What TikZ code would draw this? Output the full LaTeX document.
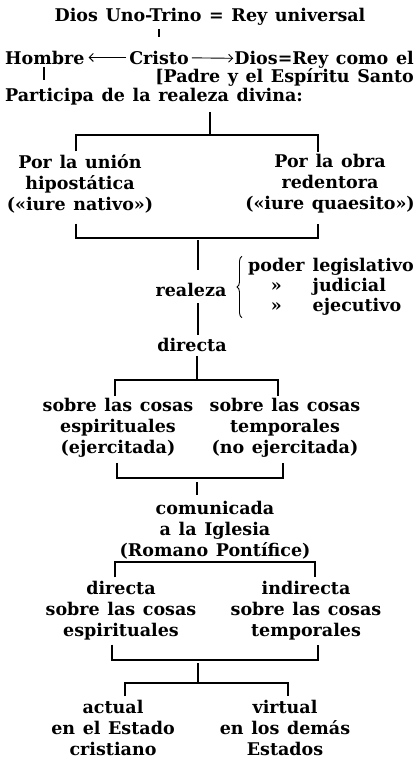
\documentclass[tikz,border=0pt]{standalone}
\usepackage{fontspec}
\setmainfont{DejaVu Serif}[WordSpace=1.25]
\usetikzlibrary{decorations.pathreplacing,arrows.meta}
\begin{document}
\begin{tikzpicture}[x=1pt,y=-1pt,
   every node/.style={font=\fontsize{17.5}{21}\selectfont\bfseries,align=center,inner sep=0pt},
   rule/.style={line width=1.7pt},
   thin rule/.style={line width=0.9pt},
   tip/.style={-{Straight Barb[length=4pt,width=8pt]}}]
\useasboundingbox (0,0) rectangle (418,760);
% cabecera
\node[anchor=base] (trino) at (210,22) {Dios Uno-Trino = Rey universal};
\node[anchor=base west] (hombre) at (5,64) {Hombre};
\node[anchor=base] (cristo) at (159,64) {Cristo};
\node[anchor=base east] (diosrey) at (414,64) {Dios=Rey como el};
\node[anchor=base east] (padre) at (414,82) {[Padre y el Espíritu Santo};
\node[anchor=base west] (participa) at (5,101) {Participa de la realeza divina:};
\draw[rule,shorten <=3pt,shorten >=14pt] (trino.south -| cristo) -- (cristo.north);
\draw[thin rule,tip,shorten <=3pt,shorten >=4pt] (cristo) -- (hombre);
\draw[thin rule,tip,shorten <=3pt,shorten >=1pt] (cristo) -- (diosrey);
\coordinate (hb) at (44,64);
\draw[rule,shorten <=3pt,shorten >=8pt] (hb) -- (hb |- participa.north);
% union / obra
\node (union) at (80,184) {Por la unión\\hipostática\\(«iure nativo»)};
\node (obra) at (330,184) {Por la obra\\redentora\\(«iure quaesito»)};
\coordinate (u0) at (210,135);
\coordinate (u1) at (76,135);
\coordinate (u2) at (318,135);
\draw[rule,shorten <=7pt] (participa.south -| u0) -- (u0);
\draw[rule,shorten <=3pt,shorten >=2pt] (u1 |- union.north) -- (u1) -- (u2) -- (u2 |- obra.north);
\coordinate (l1) at (76,238);
\coordinate (l2) at (318,238);
\draw[rule,shorten <=10pt,shorten >=10pt] (l1 |- union.south) -- (l1) -- (l2) -- (l2 |- obra.south);
% realeza
\coordinate (r1) at (198,238);
\coordinate (r2) at (198,270);
\coordinate (r3) at (198,303);
\node (realeza) at (191,290) {realeza};
\node[anchor=west] (poderes) at (248,287) {\begin{tabular}{@{}c@{\hspace{8pt}}l@{}}poder&legislativo\\[-1pt]»&judicial\\[-1pt]»&ejecutivo\end{tabular}};
\draw[rule,shorten <=2pt] (r1) -- (r2);
\draw[thin rule,decorate,decoration={brace,amplitude=5pt}] ([xshift=-6pt]poderes.south west) -- ([xshift=-6pt]poderes.north west);
% directa
\node (directa) at (192,345) {directa};
\draw[rule,shorten >=3pt] (r3) -- (r3 |- directa.north);
\coordinate (e0) at (197,380);
\coordinate (e1) at (115,380);
\coordinate (e2) at (278,380);
\node (espir) at (118,428) {sobre las cosas\\espirituales\\(ejercitada)};
\node (tempor) at (285,428) {sobre las cosas\\temporales\\(no ejercitada)};
\draw[rule,shorten <=4pt] (directa.south -| e0) -- (e0);
\draw[rule,shorten <=2pt,shorten >=2pt] (e1 |- espir.north) -- (e1) -- (e2) -- (e2 |- tempor.north);
\coordinate (f0) at (197,478);
\coordinate (f1) at (117,478);
\coordinate (f2) at (283,478);
\draw[rule,shorten <=5pt,shorten >=5pt] (f1 |- espir.south) -- (f1) -- (f2) -- (f2 |- tempor.south);
% comunicada
\node (comunica) at (215,530) {comunicada\\a la Iglesia\\(Romano Pontífice)};
\draw[rule,shorten <=4pt,shorten >=6pt] (f0) -- (f0 |- comunica.north);
\node (direct2) at (121,611) {directa\\sobre las cosas\\espirituales};
\node (indirect) at (306,611) {indirecta\\sobre las cosas\\temporales};
\coordinate (g1) at (115,562);
\coordinate (g2) at (315,562);
\draw[rule,shorten <=4pt,shorten >=4pt] (g1 |- direct2.north) -- (g1) -- (g2) -- (g2 |- indirect.north);
\coordinate (h0) at (198,660);
\coordinate (h1) at (112,660);
\coordinate (h2) at (318,660);
\draw[rule,shorten <=4pt,shorten >=4pt] (h1 |- direct2.south) -- (h1) -- (h2) -- (h2 |- indirect.south);
% actual / virtual
\node (actual) at (113,728) {actual\\en el Estado\\cristiano};
\node (virtual) at (285,728) {virtual\\en los demás\\Estados};
\coordinate (k0) at (198,683);
\coordinate (k1) at (125,683);
\coordinate (k2) at (288,683);
\draw[rule,shorten <=3pt] (h0) -- (k0);
\draw[rule,shorten <=4pt,shorten >=4pt] (k1 |- actual.north) -- (k1) -- (k2) -- (k2 |- virtual.north);
\end{tikzpicture}
\end{document}
